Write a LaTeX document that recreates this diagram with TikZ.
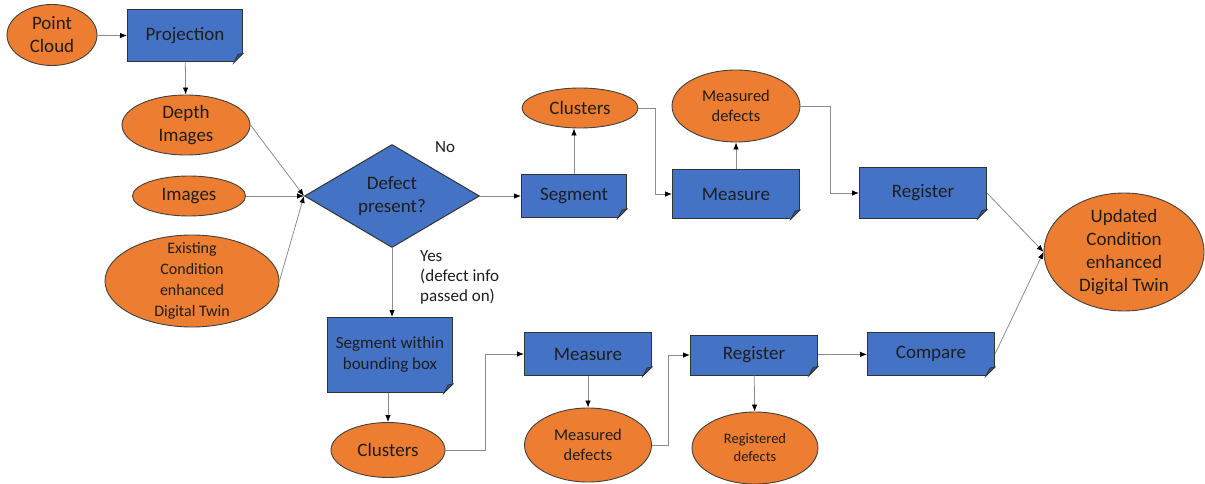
\documentclass[tikz,border=0pt]{standalone}
\usepackage{fontspec}
\setmainfont{Carlito}
\usetikzlibrary{arrows.meta,shapes.geometric,calc}
\definecolor{boxblue}{HTML}{4472C4}
\definecolor{foldblue}{HTML}{2F5597}
\definecolor{dataorange}{HTML}{ED7D31}
\definecolor{linegray}{HTML}{8C8C8C}
\definecolor{inkdark}{HTML}{1E1E1E}

\begin{document}
\begin{tikzpicture}[
  x=1pt, y=-1pt,
  data/.style={ellipse, draw=black!75, line width=0.9pt, fill=dataorange, inner sep=0pt, align=center, text=inkdark, font=\fontsize{19}{23}\selectfont},
  task/.style={rectangle, draw=black!80, line width=1pt, fill=boxblue, inner sep=0pt, align=center, text=inkdark, font=\fontsize{19}{23}\selectfont},
  decision/.style={diamond, shape aspect=1.7, draw=black!80, line width=1pt, fill=boxblue, inner sep=0pt, align=center, text=inkdark, font=\fontsize{19}{23}\selectfont},
  note/.style={inner sep=0pt, align=left, text=inkdark, font=\fontsize{17}{20}\selectfont},
  arrow/.style={draw=linegray, line width=0.8pt, -{Latex[length=7pt,width=5.5pt,color=black]}}
]
\useasboundingbox (0,0) rectangle (1205,484);

% inputs and decision
\node[data, minimum width=90pt, minimum height=61pt] (pcloud) at (52,35) {Point\\Cloud};
\node[task, minimum width=115pt, minimum height=52pt] (proj) at (185,36) {Projection};
\node[data, minimum width=128pt, minimum height=60pt] (depth) at (186,125) {Depth\\Images};
\node[data, minimum width=113pt, minimum height=40pt] (imgs) at (189,196) {Images};
\node[data, minimum width=174pt, minimum height=92pt, inner ysep=-6pt, font=\fontsize{16}{21}\selectfont] (exist) at (192,281) {Existing\\Condition\\enhanced\\Digital Twin};
\node[decision, minimum width=175pt, minimum height=103pt] (dec) at (392,196) {Defect\\present?};
\node[note] (nolabel) at (445,147) {No};
\node[note, anchor=north west] (yeslabel) at (420,250) {Yes\\(defect info\\passed on)};

% no-defect branch
\node[task, minimum width=105pt, minimum height=43pt] (segA) at (574,196) {Segment};
\node[data, minimum width=116pt, minimum height=40pt] (clusA) at (580,108) {Clusters};
\node[task, minimum width=127pt, minimum height=49pt] (measA) at (736,194) {Measure};
\node[data, minimum width=128pt, minimum height=72pt, font=\fontsize{16.5}{20}\selectfont] (mdefA) at (736,106) {Measured\\defects};
\node[task, minimum width=127pt, minimum height=50pt] (regA) at (923,193) {Register};
\node[data, minimum width=160pt, minimum height=118pt, inner ysep=-2pt] (upd) at (1124,252) {Updated\\Condition\\enhanced\\Digital Twin};

% defect branch
\node[task, minimum width=125pt, minimum height=75pt, font=\fontsize{17}{21}\selectfont] (segB) at (390,355) {Segment within\\bounding box};
\node[data, minimum width=114pt, minimum height=55pt] (clusB) at (388,450) {Clusters};
\node[task, minimum width=127pt, minimum height=43pt] (measB) at (588,354) {Measure};
\node[data, minimum width=127pt, minimum height=74pt, font=\fontsize{16.5}{20}\selectfont] (mdefB) at (588,445) {Measured\\defects};
\node[task, minimum width=127pt, minimum height=40pt] (regB) at (754,355) {Register};
\node[task, minimum width=127pt, minimum height=43pt] (comp) at (931,354) {Compare};
\node[data, minimum width=126pt, minimum height=72pt, font=\fontsize{14.5}{18}\selectfont] (rdef) at (755,448) {Registered\\defects};

% folded corners of the task boxes
\foreach \n in {proj,segA,measA,regA,segB,measB,regB,comp}{
  \fill[white] ($(\n.south east)+(-10.5,1.5)$) -- ($(\n.south east)+(1.5,1.5)$) -- ($(\n.south east)+(1.5,-10.5)$) -- cycle;
  \filldraw[fill=foldblue, draw=black!80, line width=0.8pt] ($(\n.south east)+(-9,0)$) -- ($(\n.south east)+(-5,-8)$) -- ($(\n.south east)+(0,-9)$) -- cycle;
}

\draw[arrow] (pcloud) -- (proj);
\draw[arrow] (proj) -- (depth);
\draw[arrow] (depth.east) -- (dec.west);
\draw[arrow] (imgs.east) -- (dec.west);
\draw[arrow] (exist.east) -- (dec.west);

\draw[arrow] (dec.east) -- (segA.west);
\draw[arrow] (segA.north) -- (segA.north |- clusA.south);
\draw[arrow] (clusA.east) -- ++(17,0) |- (measA.west);
\draw[arrow] (measA) -- (mdefA);
\draw[arrow] (mdefA.east) -- ++(30,0) |- (regA.west);
\draw[arrow] (regA.east) -- (upd.west);

\draw[arrow] (dec.south) -- (dec.south |- segB.north);
\draw[arrow] (clusB |- segB.south) -- (clusB);
\draw[arrow] (clusB.east) -- ++(40,0) |- (measB.west);
\draw[arrow] (measB) -- (mdefB);
\draw[arrow] (mdefB.east) -- ++(16,0) |- (regB.west);
\draw[arrow] (regB) -- (comp);
\draw[arrow] (regB) -- (rdef);
\draw[arrow] (comp.east) -- (upd.west);

\end{tikzpicture}
\end{document}
